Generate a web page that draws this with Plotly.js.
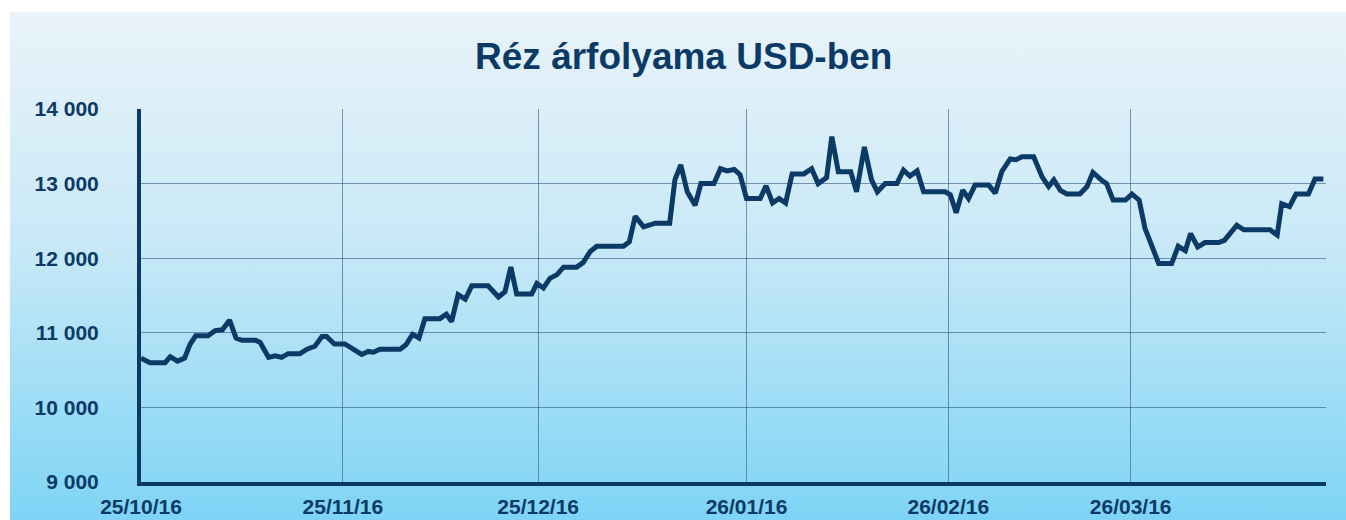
<!DOCTYPE html>
<html>
<head>
<meta charset="utf-8">
<script src="https://cdn.plot.ly/plotly-3.0.1.min.js"></script>
<style>
  html, body { margin: 0; padding: 0; background: #ffffff; width: 1346px; height: 520px; overflow: hidden; }
  #bg { position: absolute; left: 10px; top: 12px; width: 1336px; height: 508px;
        background: linear-gradient(to bottom, #e9f3f9 0%, #c9e9f7 45%, #7ed4f5 100%); }
  #chart { position: absolute; left: 0; top: 0; width: 1346px; height: 520px; }
</style>
</head>
<body>
<div id="bg"></div>
<div id="chart"></div>
<script>
// Days elapsed since 25/10/16
var dayOffset = [0,1.4,3.7,4.5,5.6,6.7,7.5,8.4,10.3,11.4,
  12.5,13.6,14.6,15.5,17.6,18.3,19.6,20.6,21.6,22.6,
  24.4,25.5,26.7,27.8,28.5,29.7,31.3,32.6,33.9,34.9,
  35.7,36.7,39.8,40.7,41.7,42.7,43.6,45.9,46.9,47.7,
  48.7,49.8,50.8,53.3,54.9,55.9,56.8,57.7,60.0,60.8,
  61.8,62.8,63.9,64.9,66.9,67.9,69.0,70.0,74.1,75.0,
  75.9,77.2,79.0,81.2,82.0,82.9,83.9,85.1,86.0,88.0,
  89.0,90.0,91.1,92.0,93.0,95.1,96.0,97.0,98.0,99.0,
  100.0,101.8,103.0,104.0,105.3,106.1,107.1,109.0,109.9,111.1,
  112.2,113.1,114.3,116.1,117.1,118.1,119.2,120.2,123.5,124.3,
  125.2,126.2,127.1,128.1,130.2,131.2,132.2,133.5,134.4,135.3,
  137.1,138.4,139.4,140.2,141.2,142.2,144.2,145.3,146.2,147.6,
  148.3,149.3,151.2,152.2,153.3,154.2,156.3,158.3,159.3,160.4,
  161.2,162.3,163.4,165.5,166.4,168.3,169.4,173.4,174.5,175.2,
  176.4,177.4,179.3,180.3,181.6];

// Copper price in USD
var priceUSD = [10660,10600,10600,10680,10620,10660,10840,10960,10960,11030,
  11040,11170,10930,10900,10900,10870,10670,10690,10670,10720,
  10720,10780,10820,10950,10950,10850,10850,10780,10710,10750,
  10740,10780,10780,10840,10980,10930,11190,11190,11250,11150,
  11510,11450,11630,11630,11480,11550,11880,11520,11520,11660,
  11600,11730,11780,11880,11880,11940,12090,12160,12160,12220,
  12560,12420,12470,12470,13050,13250,12890,12710,13000,13000,
  13200,13170,13190,13120,12800,12800,12970,12740,12800,12740,
  13130,13130,13200,13000,13080,13630,13160,13160,12890,13490,
  13050,12890,13000,13000,13180,13100,13170,12890,12890,12850,
  12610,12910,12800,12980,12980,12870,13160,13330,13320,13360,
  13360,13090,12960,13050,12910,12860,12860,12960,13150,13040,
  13000,12780,12780,12860,12780,12400,11930,11930,12160,12100,
  12330,12150,12210,12210,12240,12440,12380,12380,12310,12730,
  12690,12860,12860,13060,13060];

var xTickVals = [0, 31, 61, 93, 124, 152];
var xTickText = ["25/10/16", "25/11/16", "25/12/16", "26/01/16", "26/02/16", "26/03/16"];
var yTickVals = [9000, 10000, 11000, 12000, 13000, 14000];
var yTickText = ["9 000", "10 000", "11 000", "12 000", "13 000", "14 000"];

var navy = "#0b3a66";
var gridCol = "rgba(45,85,125,0.6)";

var trace = {
  x: dayOffset, y: priceUSD, type: "scatter", mode: "lines",
  line: { color: navy, width: 5, shape: "linear" },
  hoverinfo: "skip"
};

var layout = {
  width: 1346, height: 520,
  paper_bgcolor: "rgba(0,0,0,0)", plot_bgcolor: "rgba(0,0,0,0)",
  margin: { l: 141, r: 20, t: 109, b: 38 },
  showlegend: false,
  title: {
    text: "<b>Réz árfolyama USD-ben</b>",
    font: { family: "Liberation Sans, Arial, sans-serif", size: 37, color: navy },
    xref: "container", x: 0.508, xanchor: "center",
    yref: "container", y: 0.893, yanchor: "middle"
  },
  xaxis: {
    range: [0, 182], tickmode: "array", tickvals: xTickVals, ticktext: xTickText,
    showgrid: true, gridcolor: gridCol, gridwidth: 1.3,
    zeroline: false, showline: true, linecolor: navy, linewidth: 4,
    ticks: "", ticklabelstandoff: 3,
    tickfont: { family: "Liberation Sans, Arial, sans-serif", size: 21, color: navy, weight: "bold" },
    fixedrange: true
  },
  yaxis: {
    range: [9000, 14000], tickmode: "array", tickvals: yTickVals, ticktext: yTickText,
    showgrid: true, gridcolor: gridCol, gridwidth: 1.3,
    zeroline: false, showline: true, linecolor: navy, linewidth: 4,
    ticks: "", ticklabelstandoff: 34,
    tickfont: { family: "Liberation Sans, Arial, sans-serif", size: 21, color: navy, weight: "bold" },
    fixedrange: true
  }
};

Plotly.newPlot("chart", [trace], layout, { staticPlot: true, displayModeBar: false });
</script>
</body>
</html>
